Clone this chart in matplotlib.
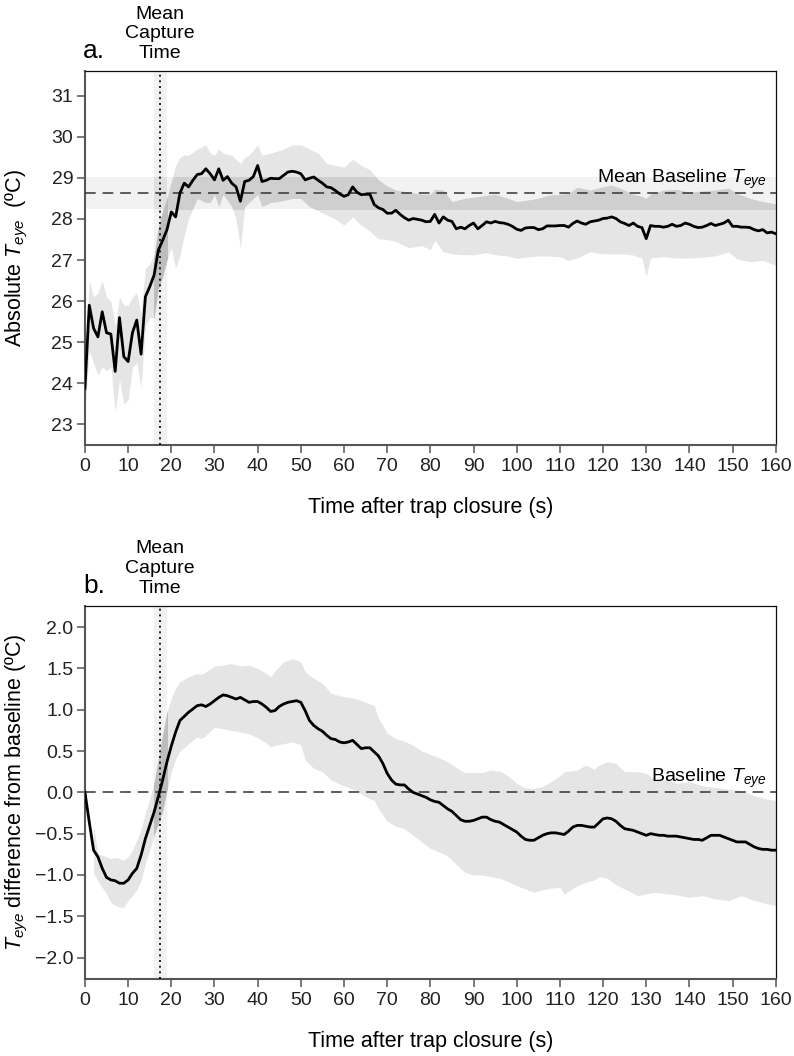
import numpy as np
import matplotlib
matplotlib.use("Agg")
import matplotlib.pyplot as plt
from matplotlib.patches import Rectangle

plt.rcParams['font.family'] = ['Liberation Sans', 'DejaVu Sans']
plt.rcParams['mathtext.fontset'] = 'custom'
plt.rcParams['mathtext.rm'] = 'Liberation Sans'
plt.rcParams['mathtext.it'] = 'Liberation Sans:italic'
plt.rcParams['axes.unicode_minus'] = True

# ---------------- data ----------------
time_s = np.arange(0, 161)

abs_mean = [
    23.88, 25.90, 25.34, 25.13, 25.74, 25.23, 25.20, 24.29, 25.60, 24.65,
    24.53, 25.23, 25.54, 24.71, 26.11, 26.35, 26.63, 27.24, 27.48, 27.74,
    28.17, 28.05, 28.63, 28.87, 28.78, 28.94, 29.08, 29.10, 29.22, 29.10,
    28.95, 29.22, 28.94, 29.03, 28.87, 28.78, 28.43, 28.91, 28.94, 29.03,
    29.30, 28.91, 28.94, 28.99, 28.98, 28.98, 29.06, 29.14, 29.16, 29.14,
    29.10, 28.95, 28.99, 29.02, 28.94, 28.87, 28.78, 28.76, 28.69, 28.61,
    28.55, 28.59, 28.78, 28.65, 28.59, 28.60, 28.60, 28.35, 28.27, 28.23,
    28.14, 28.14, 28.21, 28.11, 28.03, 27.97, 28.01, 27.99, 27.97, 27.93,
    27.94, 28.11, 27.90, 28.05, 27.97, 27.94, 27.76, 27.80, 27.76, 27.84,
    27.90, 27.76, 27.84, 27.93, 27.90, 27.94, 27.91, 27.90, 27.87, 27.82,
    27.75, 27.72, 27.78, 27.79, 27.79, 27.74, 27.76, 27.83, 27.83, 27.83,
    27.84, 27.84, 27.80, 27.89, 27.95, 27.90, 27.87, 27.93, 27.95, 27.97,
    28.01, 28.02, 28.05, 28.01, 27.93, 27.89, 27.84, 27.90, 27.82, 27.79,
    27.52, 27.84, 27.82, 27.82, 27.80, 27.82, 27.87, 27.82, 27.84, 27.90,
    27.87, 27.82, 27.79, 27.80, 27.84, 27.89, 27.84, 27.87, 27.90, 27.97,
    27.82, 27.82, 27.80, 27.80, 27.79, 27.74, 27.71, 27.74, 27.66, 27.68,
    27.64,
]

abs_band_t = [0, 1, 2, 3, 4, 5, 6, 7, 8, 9, 10, 11, 12, 13, 14, 15, 16, 17, 18, 19,
              20, 21, 22, 23, 24, 26, 28, 29, 30, 31, 32, 34, 35, 36, 37, 38, 40, 41,
              43, 46, 48, 50, 52, 54, 56, 58, 60, 62, 64, 66, 68, 70, 72, 75, 78, 80,
              81, 83, 85, 88, 90, 93, 95, 98, 100, 102, 105, 107, 110, 112, 114, 117,
              120, 122, 125, 127, 129, 130, 131, 134, 137, 140, 143, 146, 149, 151,
              154, 157, 160]
abs_upper = [24.6, 26.5, 26.1, 26.2, 26.5, 26.1, 26.0, 25.4, 26.1, 25.9, 25.9, 26.1,
             26.2, 25.7, 26.8, 26.9, 27.1, 27.8, 28.2, 28.5, 28.9, 29.3, 29.5, 29.55,
             29.55, 29.7, 29.8, 29.6, 29.55, 29.7, 29.6, 29.55, 29.45, 29.35, 29.5,
             29.55, 29.8, 29.55, 29.6, 29.7, 29.8, 29.8, 29.7, 29.6, 29.35, 29.3,
             29.26, 29.45, 29.3, 29.2, 28.95, 28.8, 28.7, 28.65, 28.6, 28.6, 28.72,
             28.7, 28.42, 28.5, 28.53, 28.57, 28.6, 28.5, 28.42, 28.45, 28.5, 28.57,
             28.6, 28.62, 28.77, 28.7, 28.78, 28.82, 28.7, 28.6, 28.55, 28.5, 28.6,
             28.7, 28.72, 28.65, 28.68, 28.7, 28.75, 28.62, 28.5, 28.42, 28.37]
abs_lower = [23.3, 24.8, 24.5, 24.2, 24.4, 24.3, 24.4, 23.3, 24.1, 23.5, 23.6, 24.4,
             24.5, 23.9, 25.4, 25.6, 25.6, 26.3, 26.6, 27.0, 27.3, 26.8, 27.1, 27.6,
             28.0, 28.5, 28.4, 28.4, 28.6, 28.3, 28.6, 28.3, 28.0, 27.3, 28.3, 28.4,
             28.6, 28.3, 28.4, 28.45, 28.5, 28.5, 28.3, 28.2, 28.1, 28.0, 27.85,
             28.05, 27.85, 27.7, 27.52, 27.5, 27.45, 27.3, 27.35, 27.25, 27.48, 27.2,
             27.15, 27.13, 27.13, 27.18, 27.13, 27.1, 27.04, 27.07, 27.1, 27.1, 27.08,
             26.99, 27.05, 27.2, 27.15, 27.15, 27.15, 27.12, 27.05, 26.6, 27.05,
             27.08, 27.05, 27.05, 27.07, 27.1, 27.2, 27.03, 26.96, 26.99, 26.87]

diff_mean = [
    0.00, -0.36, -0.70, -0.78, -0.92, -1.03, -1.06, -1.07, -1.10, -1.10,
    -1.06, -0.98, -0.92, -0.76, -0.56, -0.40, -0.24, -0.05, 0.15, 0.37,
    0.56, 0.73, 0.87, 0.92, 0.97, 1.01, 1.05, 1.06, 1.04, 1.07,
    1.11, 1.15, 1.18, 1.17, 1.15, 1.13, 1.15, 1.12, 1.09, 1.10,
    1.10, 1.07, 1.03, 0.98, 0.99, 1.04, 1.07, 1.09, 1.10, 1.11,
    1.09, 0.99, 0.87, 0.81, 0.77, 0.74, 0.69, 0.65, 0.64, 0.61,
    0.60, 0.61, 0.63, 0.58, 0.53, 0.54, 0.54, 0.49, 0.44, 0.35,
    0.23, 0.15, 0.10, 0.09, 0.09, 0.04, 0.00, -0.02, -0.04, -0.06,
    -0.09, -0.11, -0.12, -0.16, -0.20, -0.23, -0.28, -0.33, -0.35, -0.35,
    -0.34, -0.32, -0.30, -0.30, -0.33, -0.35, -0.36, -0.39, -0.42, -0.45,
    -0.48, -0.53, -0.57, -0.58, -0.58, -0.55, -0.52, -0.50, -0.49, -0.49,
    -0.50, -0.51, -0.47, -0.42, -0.40, -0.40, -0.41, -0.42, -0.42, -0.37,
    -0.32, -0.31, -0.32, -0.35, -0.40, -0.44, -0.45, -0.46, -0.48, -0.50,
    -0.52, -0.50, -0.51, -0.52, -0.52, -0.53, -0.53, -0.53, -0.54, -0.55,
    -0.56, -0.57, -0.57, -0.58, -0.55, -0.52, -0.52, -0.52, -0.54, -0.56,
    -0.58, -0.60, -0.60, -0.60, -0.63, -0.66, -0.68, -0.69, -0.69, -0.70,
    -0.70,
]

diff_band_t = [2, 3, 5, 6, 7, 8, 9, 10, 11, 12, 13, 14, 15, 16, 17, 18, 19, 20, 21, 22,
               24, 26, 27, 28, 30, 32, 34, 36, 38, 40, 42, 43, 44, 46, 48, 50, 51, 53,
               55, 57, 59, 61, 63, 65, 67, 68, 70, 72, 74, 76, 78, 80, 82, 84, 86, 88,
               90, 92, 94, 96, 98, 100, 102, 104, 106, 108, 110, 111, 114, 116, 118,
               119, 121, 123, 125, 128, 130, 132, 135, 137, 140, 143, 146, 149, 152,
               155, 158, 160]
diff_upper = [-0.42, -0.74, -0.78, -0.80, -0.79, -0.80, -0.82, -0.78, -0.70, -0.58,
              -0.45, -0.25, -0.08, 0.12, 0.40, 0.70, 0.97, 1.14, 1.26, 1.34, 1.40,
              1.44, 1.43, 1.46, 1.53, 1.54, 1.56, 1.53, 1.54, 1.50, 1.44, 1.40, 1.47,
              1.58, 1.62, 1.58, 1.46, 1.38, 1.32, 1.20, 1.17, 1.15, 1.13, 1.09, 1.05,
              0.90, 0.72, 0.65, 0.62, 0.57, 0.50, 0.46, 0.42, 0.37, 0.30, 0.24, 0.24,
              0.24, 0.27, 0.26, 0.20, 0.11, 0.05, 0.05, 0.07, 0.13, 0.20, 0.25, 0.27,
              0.33, 0.28, 0.33, 0.37, 0.35, 0.25, 0.25, 0.23, 0.15, 0.15, 0.11, 0.13,
              0.08, 0.06, 0.04, 0.02, -0.04, -0.08, -0.10]
diff_lower = [-0.98, -1.07, -1.23, -1.33, -1.37, -1.39, -1.39, -1.31, -1.25, -1.18,
              -1.07, -0.86, -0.70, -0.52, -0.38, -0.22, 0.02, 0.25, 0.40, 0.50, 0.59,
              0.67, 0.65, 0.69, 0.79, 0.77, 0.75, 0.73, 0.71, 0.66, 0.60, 0.55, 0.57,
              0.59, 0.61, 0.58, 0.39, 0.29, 0.25, 0.15, 0.10, 0.06, 0.02, -0.05, -0.10,
              -0.20, -0.35, -0.41, -0.44, -0.52, -0.60, -0.68, -0.72, -0.77, -0.87,
              -0.97, -1.00, -1.00, -1.02, -1.04, -1.08, -1.13, -1.17, -1.21, -1.18,
              -1.16, -1.15, -1.23, -1.13, -1.09, -1.06, -1.02, -1.04, -1.12, -1.17,
              -1.25, -1.23, -1.21, -1.23, -1.24, -1.27, -1.25, -1.29, -1.31, -1.25,
              -1.31, -1.35, -1.37]

capture_mean = 17.4
capture_lo = 16.1
capture_hi = 18.9

baseline_mean = 28.63
baseline_lo = 28.23
baseline_hi = 29.02
diff_baseline = 0.0

x_ticks = list(range(0, 161, 10))
abs_ticks = [23, 24, 25, 26, 27, 28, 29, 30, 31]
diff_ticks = [-2.0, -1.5, -1.0, -0.5, 0.0, 0.5, 1.0, 1.5, 2.0]

# ---------------- styling ----------------
C_RIB = '#e5e5e5'
C_BAND = '#f2f2f2'
C_RIB_H = '#cfcfcf'
C_RIB_V = '#bdbdbd'
C_HV = '#e0e0e0'
TICK_FS = 14
LABEL_FS = 15.5
NOTE_FS = 14

fig = plt.figure(figsize=(7.94, 10.56), dpi=100)
ax1 = fig.add_axes([0.107, 0.5786, 0.870, 0.3542])
ax2 = fig.add_axes([0.107, 0.0729, 0.870, 0.3535])


def style_axes(ax, yticks, fmt):
    ax.set_xlim(0, 160)
    ax.set_xticks(x_ticks)
    ax.set_yticks(yticks)
    ax.set_yticklabels([fmt(v) for v in yticks])
    ax.tick_params(axis='both', direction='out', length=5.5, width=1.1,
                   color='#555555', labelsize=TICK_FS, pad=3, labelcolor='#222222')
    ax.tick_params(axis='x', pad=4)
    for s in ['left', 'bottom']:
        ax.spines[s].set_color('#555555')
        ax.spines[s].set_linewidth(1.5)
    for s in ['top', 'right']:
        ax.spines[s].set_color('#111111')
        ax.spines[s].set_linewidth(0.9)
    ax.set_xlabel('Time after trap closure (s)', fontsize=LABEL_FS, labelpad=16)


def draw_ribbon(ax, t, lo, hi, hband=None):
    ax.fill_between(t, lo, hi, color=C_RIB, lw=0, zorder=2)
    if hband is not None:
        p = ax.fill_between(t, lo, hi, color=C_RIB_H, lw=0, zorder=2.1)
        r = Rectangle((-10, hband[0]), 200, hband[1] - hband[0], transform=ax.transData)
        p.set_clip_path(r)
    p = ax.fill_between(t, lo, hi, color=C_RIB_V, lw=0, zorder=2.2)
    r = Rectangle((capture_lo, -100), capture_hi - capture_lo, 200, transform=ax.transData)
    p.set_clip_path(r)


def capture_note(ax, label):
    ax.axvline(capture_mean, color='black', lw=1.2, ls=(0, (1.2, 2.2)), zorder=4)
    ax.annotate('Mean\nCapture\nTime', xy=(capture_mean, 1), xycoords=('data', 'axes fraction'),
                xytext=(0, 6.5), textcoords='offset points', ha='center', va='bottom',
                fontsize=NOTE_FS, linespacing=1.2, multialignment='center')
    ax.annotate(label, xy=(0, 1), xycoords='axes fraction', xytext=(-1.5, 9.5),
                textcoords='offset points', ha='left', va='baseline', fontsize=19)


# ---- panel a ----
ax1.axvspan(capture_lo, capture_hi, color=C_BAND, lw=0, zorder=1)
ax1.axhspan(baseline_lo, baseline_hi, color=C_BAND, lw=0, zorder=1)
ax1.fill_between([capture_lo, capture_hi], baseline_lo, baseline_hi, color=C_HV, lw=0, zorder=1.1)
draw_ribbon(ax1, abs_band_t, abs_lower, abs_upper, hband=(baseline_lo, baseline_hi))
ax1.axhline(baseline_mean, color='#333333', lw=1.1, ls=(0, (7, 4.5)), zorder=3)
ax1.plot(time_s, abs_mean, color='black', lw=2.0, zorder=5)
ax1.set_ylim(22.5, 31.6)
style_axes(ax1, abs_ticks, lambda v: f'{v:d}')
ax1.set_ylabel('Absolute $T_{eye}$  (ºC)', fontsize=LABEL_FS)
ax1.yaxis.set_label_coords(-0.080, 0.5)
ax1.text(158, baseline_mean + 0.25, 'Mean Baseline $T_{eye}$', ha='right', va='baseline',
         fontsize=NOTE_FS, zorder=6)
capture_note(ax1, 'a.')

# ---- panel b ----
ax2.axvspan(capture_lo, capture_hi, color=C_BAND, lw=0, zorder=1)
draw_ribbon(ax2, diff_band_t, diff_lower, diff_upper)
ax2.axhline(diff_baseline, color='#333333', lw=1.1, ls=(0, (7, 4.5)), zorder=3)
ax2.plot(time_s, diff_mean, color='black', lw=2.0, zorder=5)
ax2.set_ylim(-2.26, 2.26)
style_axes(ax2, diff_ticks, lambda v: f'{v:.1f}'.replace('-', '\u2212'))
ax2.set_ylabel('$T_{eye}$ difference from baseline (ºC)', fontsize=LABEL_FS)
ax2.yaxis.set_label_coords(-0.080, 0.5)
ax2.text(158, diff_baseline + 0.12, 'Baseline $T_{eye}$', ha='right', va='baseline',
         fontsize=NOTE_FS, zorder=6)
capture_note(ax2, 'b.')

fig.savefig('out.png', dpi=100, facecolor='white')
